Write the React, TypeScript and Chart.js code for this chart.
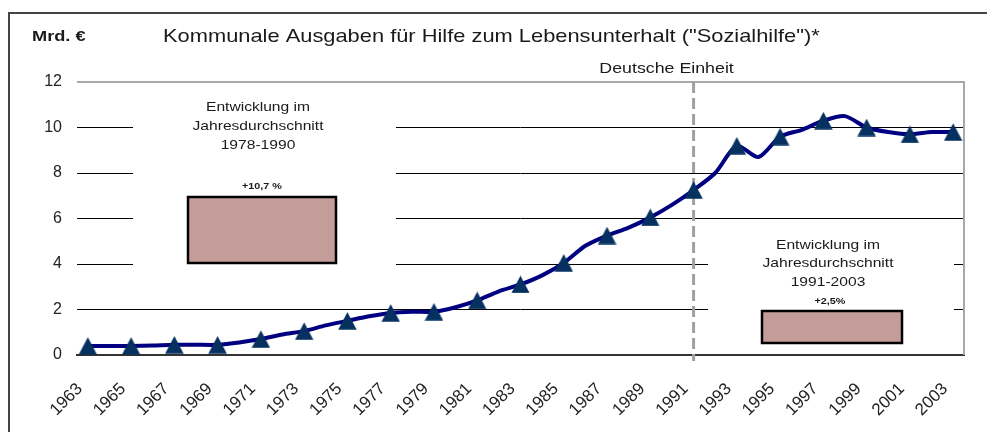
import React, { useEffect, useRef } from "react";
import { Chart, registerables } from "chart.js";

Chart.register(...registerables);

const years: string[] = [
  "1963","1964","1965","1966","1967","1968","1969","1970","1971","1972",
  "1973","1974","1975","1976","1977","1978","1979","1980","1981","1982",
  "1983","1984","1985","1986","1987","1988","1989","1990","1991","1992",
  "1993","1994","1995","1996","1997","1998","1999","2000","2001","2002","2003",
];

const spending: number[] = [
  0.4, 0.4, 0.4, 0.42, 0.45, 0.45, 0.45, 0.55, 0.7, 0.9,
  1.05, 1.3, 1.5, 1.7, 1.85, 1.9, 1.9, 2.1, 2.4, 2.8,
  3.1, 3.5, 4.05, 4.8, 5.25, 5.6, 6.05, 6.6, 7.25, 8.0,
  9.2, 8.7, 9.6, 9.9, 10.3, 10.5, 10.0, 9.8, 9.7, 9.8, 9.8,
];

const yTicks: number[] = [0, 2, 4, 6, 8, 10, 12];

const titleText = 'Kommunale Ausgaben für Hilfe zum Lebensunterhalt ("Sozialhilfe")*';
const unitText = "Mrd. €";
const unityText = "Deutsche Einheit";
const unityYear = "1991";
const boxLines1: string[] = ["Entwicklung im", "Jahresdurchschnitt", "1978-1990"];
const boxLines2: string[] = ["Entwicklung im", "Jahresdurchschnitt", "1991-2003"];
const growthLabels: string[] = ["+10,7 %", "+2,5%"];

const FONT = '"Liberation Sans", Arial, sans-serif';

function makeTriangle(): HTMLCanvasElement {
  const c = document.createElement("canvas");
  c.width = 19;
  c.height = 18;
  const g = c.getContext("2d")!;
  g.fillStyle = "#06305f";
  g.beginPath();
  g.moveTo(9.5, 0.3);
  g.lineTo(18.7, 17.8);
  g.lineTo(0.3, 17.8);
  g.closePath();
  g.fill();
  return c;
}

function stretchText(ctx: CanvasRenderingContext2D, text: string, x: number, y: number, sx: number) {
  ctx.save();
  ctx.translate(x, y);
  ctx.scale(sx, 1);
  ctx.fillText(text, 0, 0);
  ctx.restore();
}

const decorPlugin = {
  id: "decor",
  beforeDraw(chart: any) {
    const ctx = chart.ctx;
    ctx.save();
    ctx.fillStyle = "#fff";
    ctx.fillRect(0, 0, chart.width, chart.height);
    ctx.strokeStyle = "#444";
    ctx.lineWidth = 2;
    ctx.strokeRect(9, 13, 1200, 800);
    ctx.restore();
  },
  beforeDatasetsDraw(chart: any) {
    const ctx = chart.ctx;
    const a = chart.chartArea;
    const x = chart.scales.x;
    ctx.save();
    // white text boxes hiding grid lines
    ctx.fillStyle = "#fff";
    ctx.fillRect(133, 92, 263, 188);
    ctx.fillRect(708, 232, 246, 120);
    // plot border top & right
    ctx.strokeStyle = "#a8a8a8";
    ctx.lineWidth = 2;
    ctx.beginPath();
    ctx.moveTo(a.left, a.top);
    ctx.lineTo(a.right, a.top);
    ctx.lineTo(a.right, a.bottom);
    ctx.stroke();
    // dashed line
    const ux = x.getPixelForValue(years.indexOf(unityYear));
    ctx.strokeStyle = "#a0a0a0";
    ctx.lineWidth = 3;
    ctx.setLineDash([11, 5]);
    ctx.beginPath();
    ctx.moveTo(ux, a.top);
    ctx.lineTo(ux, a.bottom + 6);
    ctx.stroke();
    ctx.setLineDash([]);
    // annotation texts
    ctx.fillStyle = "#1a1a1a";
    ctx.textAlign = "center";
    ctx.textBaseline = "middle";
    ctx.font = `13px ${FONT}`;
    boxLines1.forEach((t, i) => stretchText(ctx, t, 258, 107 + i * 19, 1.2));
    boxLines2.forEach((t, i) => stretchText(ctx, t, 828, 245 + i * 18.5, 1.2));
    ctx.font = `bold 9px ${FONT}`;
    stretchText(ctx, growthLabels[0], 262, 187, 1.2);
    stretchText(ctx, growthLabels[1], 830, 302, 1.2);
    // pink boxes
    ctx.fillStyle = "#c49c9a";
    ctx.strokeStyle = "#000";
    ctx.lineWidth = 2.5;
    ctx.fillRect(188, 197, 148, 66);
    ctx.strokeRect(188, 197, 148, 66);
    ctx.fillRect(762, 311, 140, 32);
    ctx.strokeRect(762, 311, 140, 32);
    ctx.restore();
  },
  afterDraw(chart: any) {
    const ctx = chart.ctx;
    const x = chart.scales.x;
    ctx.save();
    ctx.fillStyle = "#1a1a1a";
    ctx.textBaseline = "middle";
    ctx.textAlign = "left";
    ctx.font = `bold 14px ${FONT}`;
    stretchText(ctx, unitText, 32, 37, 1.3);
    ctx.font = `19px ${FONT}`;
    stretchText(ctx, titleText, 163, 37, 1.15);
    ctx.textAlign = "center";
    ctx.font = `14px ${FONT}`;
    const ux = x.getPixelForValue(years.indexOf(unityYear));
    stretchText(ctx, unityText, ux - 27, 69, 1.27);
    ctx.restore();
  },
};

export default function App() {
  const ref = useRef<HTMLCanvasElement | null>(null);
  useEffect(() => {
    if (!ref.current) return;
    const tri = makeTriangle();
    const radii = years.map((_, i) => (i % 2 === 0 ? 9 : 0));
    const chart = new Chart(ref.current, {
      type: "line",
      data: {
        labels: years,
        datasets: [
          {
            data: spending,
            borderColor: "#000080",
            borderWidth: 4,
            tension: 0.25,
            pointStyle: tri as any,
            pointRadius: radii,
            pointHoverRadius: radii,
            clip: false as any,
          },
        ],
      },
      options: {
        animation: false,
        responsive: false,
        events: [],
        layout: { padding: { left: 0, top: 82, right: 23, bottom: 0 } },
        plugins: { legend: { display: false }, title: { display: false }, tooltip: { enabled: false } },
        scales: {
          x: {
            offset: true,
            grid: { display: false, drawTicks: false },
            border: { display: true, color: "#333", width: 2 },
            ticks: {
              autoSkip: false,
              maxRotation: 45,
              minRotation: 45,
              padding: 24,
              labelOffset: -8,
              color: "#222",
              font: { family: FONT, size: 17 },
              callback: (_v: any, i: number) => (i % 2 === 0 ? years[i] : ""),
            },
            afterFit: (s: any) => {
              s.height = 77;
              s.paddingLeft = 0;
              s.paddingRight = 0;
            },
          },
          y: {
            min: 0,
            max: 12,
            afterBuildTicks: (s: any) => { s.ticks = yTicks.map((v) => ({ value: v })); },
            grid: {
              drawTicks: false,
              color: (c: any) => (c.tick && c.tick.value === 12 ? "#a8a8a8" : "#000"),
              lineWidth: 1,
            },
            border: { display: false },
            ticks: {
              padding: 15,
              color: "#222",
              font: { family: FONT, size: 16 },
            },
            afterFit: (s: any) => {
              s.width = 77;
              s.paddingTop = 0;
              s.paddingBottom = 0;
            },
          },
        },
      },
      plugins: [decorPlugin],
    });
    return () => chart.destroy();
  }, []);
  return (
    <div style={{ position: "absolute", left: 0, top: 0, width: 987, height: 432 }}>
      <canvas ref={ref} width={987} height={432} />
    </div>
  );
}
